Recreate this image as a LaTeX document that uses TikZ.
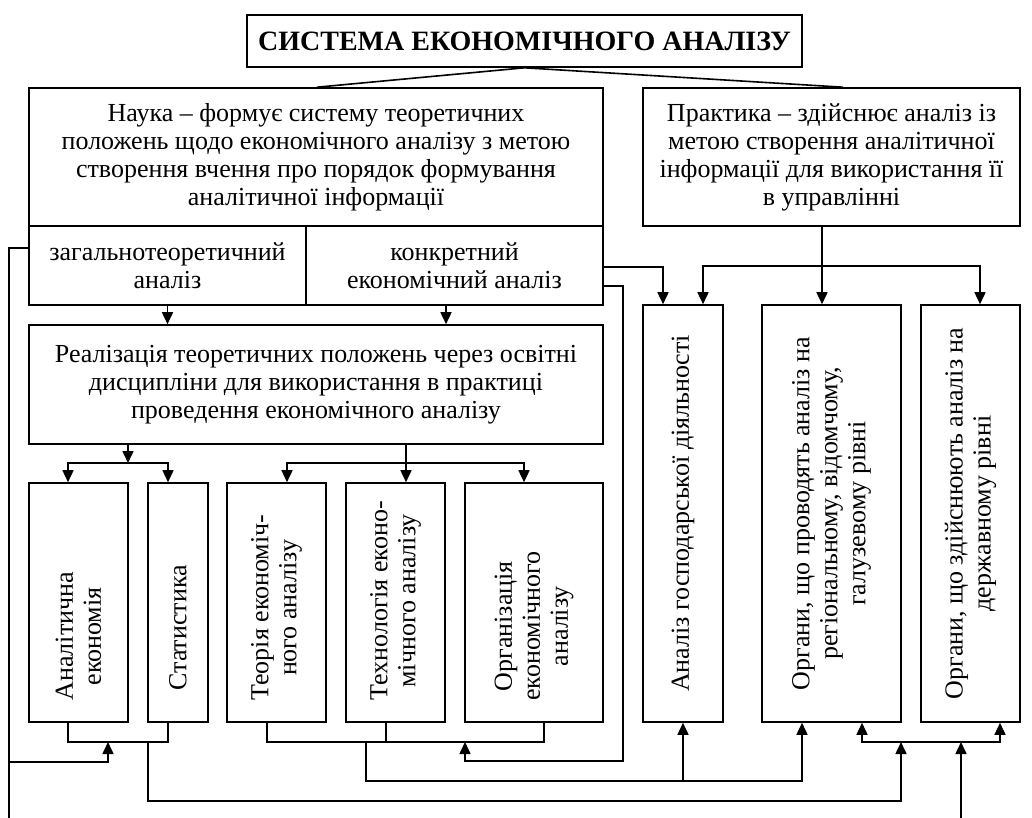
\documentclass[tikz,border=0pt]{standalone}
\usepackage{fontspec}
\setmainfont{Liberation Serif}
\usetikzlibrary{arrows.meta}
\usetikzlibrary{positioning}

\tikzset{
	box/.style={draw, line width=1.6pt, inner sep=0pt, align=center},
	vtext/.style={rotate=90, align=center, inner sep=0pt},
	arr/.style={-{Triangle[width=11pt,length=12pt]}, line width=1.6pt},
	ln/.style={line width=1.6pt}
}

\begin{document}
\begin{tikzpicture}[x=1pt, y=-1pt, font=\fontsize{26}{28}\selectfont]
	\useasboundingbox (0,0) rectangle (1032,818);
	% upper boxes
	\node[box, minimum width=555pt, minimum height=52pt, font=\fontsize{28}{30}\selectfont\bfseries] (sys) at (524.5,41) {СИСТЕМА ЕКОНОМІЧНОГО АНАЛІЗУ};
	\node[box, minimum width=574pt, minimum height=138pt] (nauka) at (316,157) {Наука – формує систему теоретичних\\положень щодо економічного аналізу з метою\\створення вчення про порядок формування\\аналітичної інформації};
	\node[box, minimum width=277pt, minimum height=79pt] (zag) at (167.5,265.5) {загальнотеоретичний\\аналіз};
	\node[box, minimum width=297pt, minimum height=79pt] (konk) at (454.5,265.5) {конкретний\\економічний аналіз};
	\node[box, minimum width=574pt, minimum height=119pt] (real) at (316,384.5) {Реалізація теоретичних положень через освітні\\дисципліни для використання в практиці\\проведення економічного аналізу};
	\node[box, minimum width=377pt, minimum height=138pt] (prakt) at (831.5,157) {Практика – здійснює аналіз із\\метою створення аналітичної\\інформації для використання її\\в управлінні};
	% disciplines
	\node[box, minimum width=99pt, minimum height=239pt] (ae) at (78.5,602.5) {};%0
	\node[box, minimum width=60pt, minimum height=239pt] (stat) at (178,602.5) {};%1
	\node[box, minimum width=99pt, minimum height=239pt] (teor) at (276.5,602.5) {};%2
	\node[box, minimum width=99pt, minimum height=239pt] (tech) at (395.5,602.5) {};%3
	\node[box, minimum width=138pt, minimum height=239pt] (org) at (534,602.5) {};%4
	\node[vtext, anchor=west] (aeT) at ([yshift=22pt]ae.south) {Аналітична\\економія};
	\node[vtext, anchor=west] (statT) at ([yshift=32pt]stat.south) {Статистика};
	\node[vtext, anchor=west] (teorT) at ([yshift=22pt]teor.south) {Теорія економіч-\\ного аналізу};
	\node[vtext, anchor=west] (techT) at ([yshift=22pt]tech.south) {Технологія еконо-\\мічного аналізу};
	\node[vtext, anchor=west] (orgT) at ([yshift=22pt]org.south) {Організація\\економічного\\аналізу};
	% practice
	\node[box, minimum width=80pt, minimum height=417pt] (agd) at (683,513.5) {};%5
	\node[box, minimum width=139pt, minimum height=417pt] (reg) at (831.5,513.5) {};%6
	\node[box, minimum width=99pt, minimum height=417pt] (derzh) at (970.5,513.5) {};%7
	\node[vtext] (agdT) at (agd) {Аналіз господарської діяльності};
	\node[vtext] (regT) at (reg) {Органи, що проводять аналіз на\\регіональному, відомчому,\\галузевому рівні};
	\node[vtext] (derzhT) at (derzh) {Органи, що здійснюють аналіз на\\державному рівні};
	% junctions
	\coordinate (b1) at (128,463);
	\coordinate (b2) at (406,463);
	\coordinate (p1) at (822,266);
	\coordinate (l1) at (108,742);
	\coordinate (l2) at (148,742);
	\coordinate (m1) at (465,742);
	\coordinate (m2) at (366,742);
	\coordinate (r1) at (901,742);
	\coordinate (c3) at (683,781);
	% top links
	\draw[ln] (sys.south) -- ([xshift=1pt]nauka.north);
	\draw[ln] (sys.south) -- ([xshift=11.5pt]prakt.north);
	\draw[arr] (zag.south) -- (zag.south |- real.north);
	\draw[arr] ([xshift=-8.5pt]konk.south) coordinate (k1) -- (k1 |- real.north);
	\draw[arr] (real.south -| b1) -- (b1);
	\draw[arr] (b1) -| ([xshift=-10.5pt]ae.north);
	\draw[arr] (b1) -| ([xshift=-10pt]stat.north);
	\draw[arr] (real.south -| b2) -- (tech.north -| b2);
	\draw[arr] (b2) -| ([xshift=10.5pt]teor.north);
	\draw[arr] (b2) -| ([xshift=-10pt]org.north);
	\draw[arr] ([xshift=-9.5pt]prakt.south) -- (reg.north -| p1);
	\draw[arr] (p1) -| ([xshift=20pt]agd.north);
	\draw[arr] (p1) -| ([xshift=9.5pt]derzh.north);
	\draw[arr] ([yshift=-1.5pt]konk.east) -| ([xshift=-20pt]agd.north);
	% bottom brackets
	\draw[ln] ([xshift=-10.5pt]ae.south) |- (l1) -| ([xshift=-10pt]stat.south);
	\draw[ln] ([xshift=-9.5pt]teor.south) |- (m2) -| ([xshift=10pt]org.south);
	\draw[ln] ([xshift=-9.5pt]tech.south) coordinate (t1) -- (t1 |- m2);
	\draw[arr] (r1) -| ([xshift=30.5pt]reg.south);
	\draw[arr] (r1) -| ([xshift=29.5pt]derzh.south);
	% feedback lines
	\draw[ln] ([yshift=17.5pt]zag.west) -| (9,818);
	\draw[arr] (9,762) -| (l1);
	\draw[arr] ([yshift=-20.5pt]konk.east) -| (623,761) -| (m1);
	\draw[arr] (m2) |- (c3) -- (agd.south);
	\draw[arr] (c3) -| ([xshift=-29.5pt]reg.south);
	\draw[arr] (l2) |- (901,801) -- (r1);
	\draw[arr] (961,818) -- (r1 -| 961,0);
\end{tikzpicture}
\end{document}
